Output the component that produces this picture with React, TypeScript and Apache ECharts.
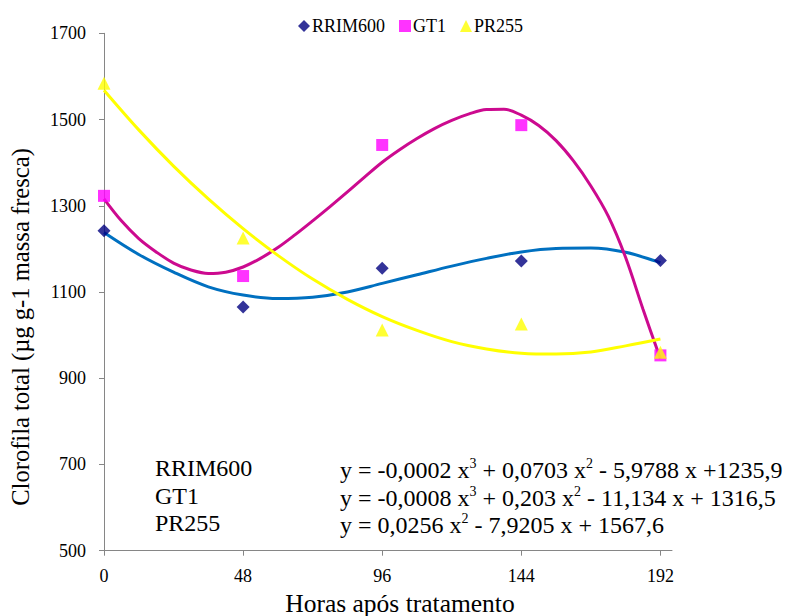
import { useEffect, useRef } from "react";
import * as echarts from "echarts";

// Observed values
const hours = [0, 48, 96, 144, 192];
const rrim600 = [1242, 1065, 1155, 1172, 1173];
const gt1 = [1323, 1137, 1441, 1487, 953];
const pr255 = [1584, 1225, 1012, 1026, 960];

// Trend curves
const trendHours = [0, 12, 24, 36, 48, 60, 72, 84, 96, 108, 120, 132, 144, 156, 168, 180, 192];
const rrimTrend = [1238, 1187, 1146, 1112, 1093, 1085, 1088, 1100, 1120, 1140, 1160, 1178, 1193, 1201, 1202, 1192, 1168];
const gt1TrendHours = [0, 6, 12, 18, 24, 30, 36, 42, 48, 54, 60, 66, 72, 78, 84, 90, 96, 102, 108, 114, 120, 126, 132, 138, 144, 150, 156, 162, 168, 174, 180, 186, 192];
const gt1Trend = [1316, 1265, 1224, 1193, 1167, 1151, 1143, 1146, 1158, 1178, 1203, 1233, 1265, 1298, 1332, 1367, 1401, 1430, 1456, 1479, 1498, 1513, 1523, 1524, 1510, 1486, 1451, 1404, 1346, 1276, 1180, 1060, 945];
const prTrend = [1568, 1476, 1392, 1316, 1247, 1185, 1130, 1083, 1043, 1011, 985, 968, 958, 956, 961, 975, 991];

// Tick labels
const xTickValues = [0, 48, 96, 144, 192];

const seriesNames = ["RRIM600", "GT1", "PR255"];
const seriesColors = ["#000080", "#FF00FF", "#FFFF00"];
const equationTexts = [
  "{n|y = -0,0002 x}{s|3}{n| + 0,0703 x}{s|2}{n| - 5,9788 x +1235,9}",
  "{n|y = -0,0008 x}{s|3}{n| + 0,203 x}{s|2}{n| - 11,134 x + 1316,5}",
  "{n|y = 0,0256 x}{s|2}{n| - 7,9205 x + 1567,6}",
];

const FONT = "Liberation Serif";

function pairs(xs: number[], ys: number[]) {
  return xs.map((x, i) => [x, ys[i]]);
}

export default function App() {
  const ref = useRef<HTMLDivElement>(null);
  useEffect(() => {
    if (!ref.current) return;
    const chart = echarts.init(ref.current, undefined, { renderer: "svg" });
    const rich = {
      n: { fontSize: 24, fontFamily: FONT, color: "#000", lineHeight: 26, verticalAlign: "bottom" },
      s: { fontSize: 14, fontFamily: FONT, color: "#000", lineHeight: 16, verticalAlign: "top" },
    };
    const eqY = [469, 497, 524];
    const graphics: any[] = [];
    seriesNames.forEach((name, i) => {
      graphics.push({
        type: "text",
        left: 155,
        top: eqY[i] - 13,
        style: { text: name, fontSize: 24, fontFamily: FONT, fill: "#000" },
      });
      graphics.push({
        type: "text",
        left: 340,
        top: eqY[i] - 13,
        style: { text: equationTexts[i], rich, fontSize: 24, fontFamily: FONT, fill: "#000" },
      });
    });
    graphics.push({
      type: "text",
      x: 400,
      y: 603,
      style: {
        text: "Horas após tratamento",
        fontSize: 25.5,
        fontFamily: FONT,
        fill: "#000",
        align: "center",
        verticalAlign: "middle",
      },
    });
    graphics.push({
      type: "text",
      x: 20,
      y: 327,
      rotation: Math.PI / 2,
      style: {
        text: "Clorofila total (µg g-1 massa fresca)",
        fontSize: 24.6,
        fontFamily: FONT,
        fill: "#000",
        align: "center",
        verticalAlign: "middle",
      },
    });

    chart.setOption({
      animation: false,
      backgroundColor: "#fff",
      textStyle: { fontFamily: FONT },
      grid: { left: 104, right: 116, top: 33.3, bottom: 65.3 },
      legend: {
        top: 12,
        left: 293,
        itemWidth: 12,
        itemHeight: 12,
        itemGap: 14,
        textStyle: { fontFamily: FONT, fontSize: 18, color: "#000", padding: [0, 0, 0, -3] },
        data: [
          { name: "RRIM600", icon: "diamond" },
          { name: "GT1", icon: "rect" },
          { name: "PR255", icon: "triangle" },
        ],
      },
      xAxis: {
        type: "value",
        min: 0,
        max: 196,
        interval: 48,
        splitLine: { show: false },
        axisLine: { show: true, lineStyle: { color: "#868686", width: 1 } },
        axisTick: { show: true, length: 5, lineStyle: { color: "#868686" }, customValues: xTickValues },
        axisLabel: {
          fontFamily: FONT,
          fontSize: 18,
          color: "#000",
          margin: 16,
          customValues: xTickValues,
          formatter: (v: number) => String(v),
        },
      },
      yAxis: {
        type: "value",
        min: 500,
        max: 1700,
        interval: 200,
        splitLine: { show: false },
        axisLine: { show: true, lineStyle: { color: "#868686", width: 1 } },
        axisTick: { show: true, length: 5, lineStyle: { color: "#868686" } },
        axisLabel: {
          fontFamily: FONT,
          fontSize: 18,
          color: "#000",
          margin: 18,
          formatter: (v: number) => String(v),
        },
      },
      series: [
        {
          name: "RRIM600 trend",
          type: "line",
          data: pairs(trendHours, rrimTrend),
          smooth: 0.35,
          showSymbol: false,
          symbol: "none",
          lineStyle: { color: "#0070C0", width: 3 },
          z: 2,
        },
        {
          name: "GT1 trend",
          type: "line",
          data: pairs(gt1TrendHours, gt1Trend),
          smooth: 0.35,
          showSymbol: false,
          symbol: "none",
          lineStyle: { color: "#CC0A8F", width: 3 },
          z: 3,
        },
        {
          name: "PR255 trend",
          type: "line",
          data: pairs(trendHours, prTrend),
          smooth: 0.35,
          showSymbol: false,
          symbol: "none",
          lineStyle: { color: "#FFFF00", width: 3 },
          z: 4,
        },
        {
          name: "RRIM600",
          type: "scatter",
          data: pairs(hours, rrim600),
          symbol: "diamond",
          symbolSize: 13,
          itemStyle: { color: seriesColors[0] },
          z: 5,
        },
        {
          name: "GT1",
          type: "scatter",
          data: pairs(hours, gt1),
          symbol: "rect",
          symbolSize: 12,
          itemStyle: { color: seriesColors[1] },
          z: 5,
        },
        {
          name: "PR255",
          type: "scatter",
          data: pairs(hours, pr255),
          symbol: "triangle",
          symbolSize: 13,
          itemStyle: { color: seriesColors[2] },
          z: 5,
        },
      ],
      graphic: graphics,
    });
    return () => chart.dispose();
  }, []);
  return <div ref={ref} style={{ position: "fixed", left: 0, top: 0, width: 788, height: 616 }} />;
}
